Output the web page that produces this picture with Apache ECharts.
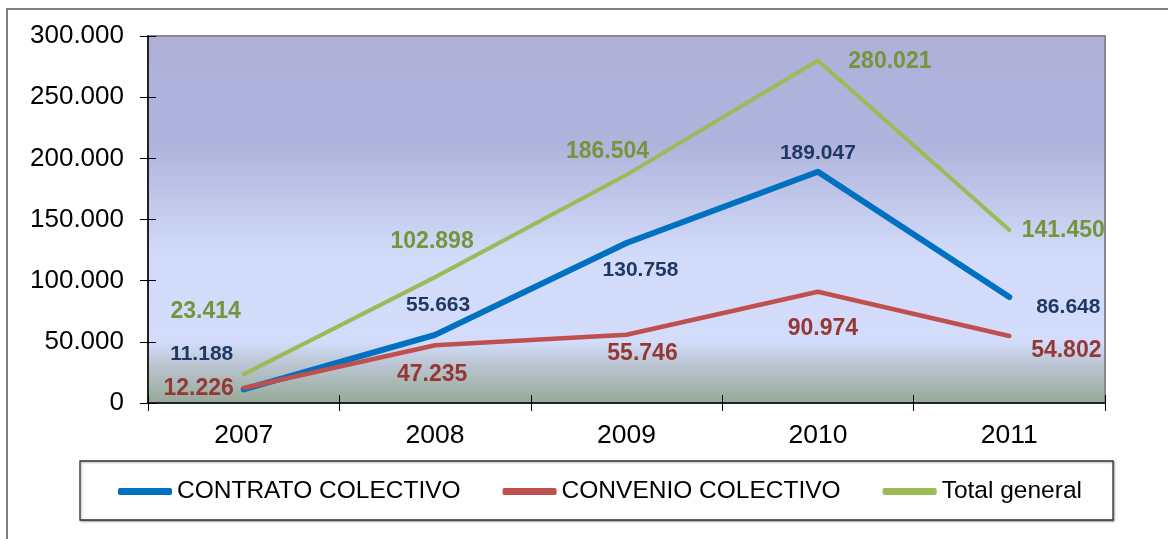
<!DOCTYPE html>
<html>
<head>
<meta charset="utf-8">
<script src="https://cdn.jsdelivr.net/npm/echarts@6/dist/echarts.min.js"></script>
<style>
html, body { margin: 0; padding: 0; background: #fff; }
#chart { width: 1168px; height: 539px; }
</style>
</head>
<body>
<div id="chart"></div>
<script>
var years = ["2007", "2008", "2009", "2010", "2011"];
var contrato = [11188, 55663, 130758, 189047, 86648];
var convenio = [12226, 47235, 55746, 90974, 54802];
var total = [23414, 102898, 186504, 280021, 141450];
var seriesNames = ["CONTRATO COLECTIVO", "CONVENIO COLECTIVO", "Total general"];

// where each value label sits, px from its point
var contratoLabelOffset = [[-42, -35], [3, -30], [14, 27], [0, -19], [59, 10]];
var convenioLabelOffset = [[-45, 1], [-3, 29], [16, 19], [5, 37], [57, 15]];
var totalLabelOffset = [[-38, -63], [-3, -35], [-19, -23], [72, 1], [54, 1]];

var FONT = "Liberation Sans";

function fmt(v) {
  return String(v).replace(/\B(?=(\d{3})+(?!\d))/g, ".");
}

function buildData(values, offsets) {
  return values.map(function (v, i) {
    return { value: v, label: { offset: offsets[i] } };
  });
}

function lineSeries(name, values, offsets, color, width, labelColor, labelSize) {
  return {
    name: name,
    type: "line",
    data: buildData(values, offsets),
    symbol: "circle",
    symbolSize: 1,
    showSymbol: true,
    itemStyle: { color: color },
    lineStyle: { color: color, width: width, cap: "round", join: "round" },
    label: {
      show: true,
      position: "inside",
      formatter: function (p) { return fmt(p.value); },
      color: labelColor,
      fontSize: labelSize,
      fontWeight: "bold",
      fontFamily: FONT,
      textBorderWidth: 0
    },
    emphasis: { disabled: true }
  };
}

var chart = echarts.init(document.getElementById("chart"));
var option = {
  animation: false,
  backgroundColor: "#fff",
  grid: {
    left: 148,
    right: 63,
    top: 36,
    bottom: 136,
    show: true,
    borderColor: "#888",
    borderWidth: 2,
    backgroundColor: {
      type: "linear", x: 0, y: 0, x2: 0, y2: 1,
      colorStops: [
        { offset: 0, color: "#aeb0d8" },
        { offset: 0.3, color: "#b0b4dc" },
        { offset: 0.6, color: "#d2dcfa" },
        { offset: 0.83, color: "#d3ddfb" },
        { offset: 0.89, color: "#bcc6d4" },
        { offset: 1, color: "#95a995" }
      ]
    }
  },
  graphic: [
    {
      type: "rect", silent: true, z: -10,
      shape: { x: 7, y: 9, width: 1200, height: 600 },
      style: { fill: "none", stroke: "#7f7f7f", lineWidth: 2 }
    },
    {
      type: "rect", silent: true, z: -5,
      shape: { x: 80, y: 461, width: 1033, height: 59 },
      style: {
        fill: "#fff", stroke: "#333", lineWidth: 1.3,
        shadowBlur: 2, shadowOffsetX: 1, shadowOffsetY: 1, shadowColor: "rgba(0,0,0,0.35)"
      }
    }
  ],
  legend: {
    left: 118,
    top: 479,
    padding: 0,
    itemWidth: 54,
    itemHeight: 7,
    itemGap: 42,
    icon: "roundRect",
    data: seriesNames,
    textStyle: { fontSize: 24.5, color: "#000", fontFamily: FONT }
  },
  xAxis: [
    {
      type: "category",
      data: years,
      boundaryGap: true,
      axisLine: { lineStyle: { color: "#000", width: 1.5 } },
      axisTick: { show: true, length: 8, lineStyle: { color: "#000" } },
      axisLabel: { fontSize: 26.5, color: "#000", margin: 19, fontFamily: FONT }
    },
    {
      type: "category",
      data: years,
      position: "bottom",
      boundaryGap: true,
      axisLine: { show: false },
      axisTick: { show: true, inside: true, length: 8, lineStyle: { color: "#000" } },
      axisLabel: { show: false }
    }
  ],
  yAxis: [
    {
      type: "value",
      min: 0,
      max: 300000,
      interval: 50000,
      axisLine: { show: true, lineStyle: { color: "#000", width: 1.5 } },
      axisTick: { show: true, length: 8, lineStyle: { color: "#000" } },
      splitLine: { show: false },
      axisLabel: { formatter: fmt, fontSize: 26, color: "#000", margin: 24, fontFamily: FONT }
    },
    {
      type: "value",
      min: 0,
      max: 300000,
      interval: 50000,
      position: "left",
      axisLine: { show: false },
      axisTick: { show: true, inside: true, length: 8, lineStyle: { color: "#000" } },
      splitLine: { show: false },
      axisLabel: { show: false }
    }
  ],
  series: [
    lineSeries(seriesNames[0], contrato, contratoLabelOffset, "#0070c0", 6, "#1f3864", 21),
    lineSeries(seriesNames[1], convenio, convenioLabelOffset, "#c0504d", 4.5, "#953735", 23),
    lineSeries(seriesNames[2], total, totalLabelOffset, "#9bbb59", 4, "#77933c", 23)
  ]
};
chart.setOption(option);
window.addEventListener("resize", function () {
  chart.resize();
});
</script>
</body>
</html>
